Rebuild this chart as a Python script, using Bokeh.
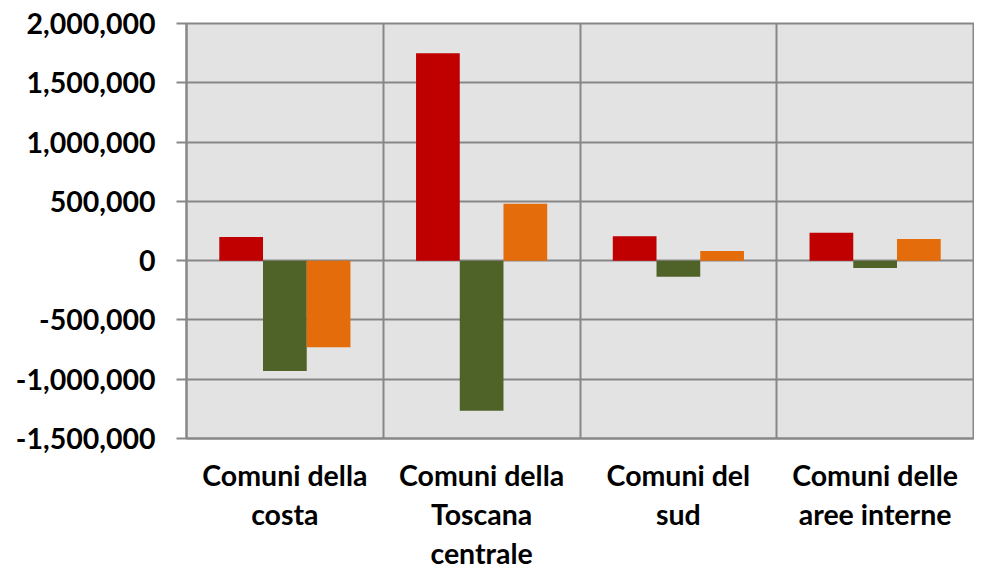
from bokeh.plotting import figure
from bokeh.models import ColumnDataSource, FixedTicker, NumeralTickFormatter, Range1d
from bokeh.embed import file_html
from bokeh.resources import INLINE

categories = ["Comuni della\ncosta", "Comuni della\nToscana\ncentrale",
              "Comuni del\nsud", "Comuni delle\naree interne"]
series_red = [200000, 1750000, 205000, 235000]
series_green = [-930000, -1265000, -135000, -62000]
series_orange = [-730000, 480000, 82000, 182000]
y_ticks = [-1500000, -1000000, -500000, 0, 500000, 1000000, 1500000, 2000000]

colors = ["#c00000", "#4f6228", "#e46c0a"]
series = [series_red, series_green, series_orange]
bar_w = 1 / 4.5
offsets = [-bar_w, 0, bar_w]

FONT = "Lato"
GRID = "#878787"

p = figure(frame_width=787, frame_height=415, output_backend="svg", toolbar_location=None,
           x_range=Range1d(0, len(categories)), y_range=Range1d(y_ticks[0], y_ticks[-1]),
           min_border_left=186, min_border_right=1, min_border_top=23, min_border_bottom=120)
p.background_fill_color = "#e3e3e3"
p.border_fill_color = "white"
p.outline_line_color = GRID
p.outline_line_width = 2

for vals, col, off in zip(series, colors, offsets):
    src = ColumnDataSource(dict(x=[i + 0.5 + off for i in range(len(categories))], top=vals))
    p.vbar(x="x", top="top", bottom=0, width=bar_w, source=src, fill_color=col, line_color=None)

# y axis
p.yaxis.ticker = FixedTicker(ticks=y_ticks)
p.yaxis.formatter = NumeralTickFormatter(format="0,0")
p.yaxis.major_label_text_font = FONT
p.yaxis.major_label_text_font_style = "bold"
p.yaxis.major_label_text_font_size = "28.5px"
p.yaxis.major_label_text_color = "black"
p.yaxis.major_tick_out = 10
p.yaxis.major_tick_in = 0
p.yaxis.major_tick_line_color = GRID
p.yaxis.major_tick_line_width = 2
p.yaxis.minor_tick_line_color = None
p.yaxis.axis_line_color = GRID
p.yaxis.axis_line_width = 2
p.yaxis.major_label_standoff = 21

# x axis
p.xaxis.ticker = FixedTicker(ticks=[i + 0.5 for i in range(len(categories))])
p.xaxis.major_label_overrides = {i + 0.5: c for i, c in enumerate(categories)}
p.xaxis.major_label_text_font = FONT
p.xaxis.major_label_text_font_style = "bold"
p.xaxis.major_label_text_font_size = "28.5px"
p.xaxis.major_label_text_color = "black"
p.xaxis.major_label_text_line_height = 1.15
p.xaxis.major_tick_line_color = None
p.xaxis.minor_tick_line_color = None
p.xaxis.axis_line_color = GRID
p.xaxis.axis_line_width = 2
p.xaxis.major_label_standoff = 13

# grids
p.ygrid.ticker = FixedTicker(ticks=y_ticks)
p.ygrid.grid_line_color = GRID
p.ygrid.grid_line_width = 2
p.xgrid.ticker = FixedTicker(ticks=list(range(1, len(categories))))
p.xgrid.grid_line_color = GRID
p.xgrid.grid_line_width = 2

open("out.html", "w").write(file_html(p, INLINE))
